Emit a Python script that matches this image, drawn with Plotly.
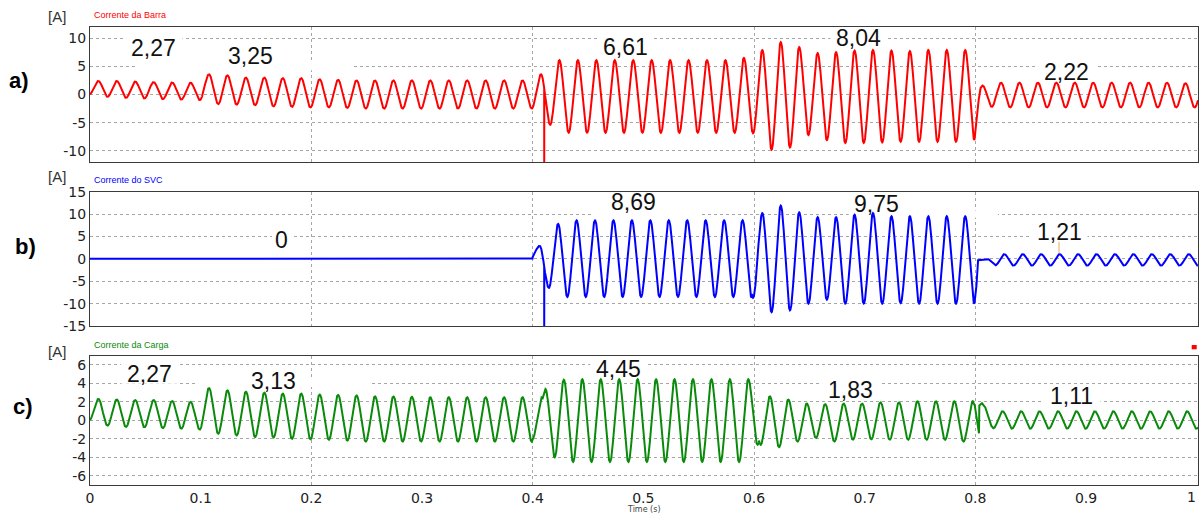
import numpy as np
import plotly.graph_objects as go

# ---------------------------------------------------------------------------
# Waveform description: 60 Hz currents, one positive and one negative peak per
# cycle (60 cycles in 1 s).  Values are the extrema of every cycle.
# ---------------------------------------------------------------------------
F_HZ = 60.0
T_FIRST_PEAK = 0.0075      # time of the first positive peak, s
DT = 0.0001                # sampling step of the drawn curves, s
T_END = 1.0012

time_tick_vals = [0, 0.1, 0.2, 0.3, 0.4, 0.5, 0.6, 0.7, 0.8, 0.9]
time_tick_text = ["0", "0.1", "0.2", "0.3", "0.4", "0.5", "0.6", "0.7", "0.8", "0.9"]
time_end_text = "1"
grid_times = [0.2, 0.4, 0.6, 0.8]

# --- a) Corrente da Barra ----------------------------------------------------
barra_seg_start = [0.0, 0.1, 0.4, 0.6, 0.8]
barra_seg_lag = [0.0, 0.0, 0.0, 0.0, -0.001]
barra_pre = -0.06
barra_peak = [
    2.4, 2.4, 2.3, 2.2, 2.15, 2.1,
    3.6, 3.4, 3.0, 3.0, 2.9, 2.9, 2.7, 2.6, 2.5, 2.5, 2.5, 2.5, 2.5, 2.5, 2.5, 2.5, 2.5, 2.5,
    3.6, 6.1, 6.1, 6.1, 6.1, 6.1, 6.1, 6.1, 6.1, 6.1, 6.1, 6.5,
    7.9, 9.3, 8.4, 7.35, 7.5, 7.8, 7.9, 7.8, 7.7, 7.9, 7.9, 7.9,
    1.6, 2.1, 2.1, 2.1, 2.1, 2.1, 2.1, 2.1, 2.1, 2.1, 2.1, 2.0,
]
barra_trough = [
    -0.42, -0.6, -0.7, -0.82, -0.9, -1.0,
    -1.7, -1.8, -1.9, -2.1, -2.2, -2.3, -2.3, -2.4, -2.5, -2.5, -2.5, -2.5, -2.5, -2.5, -2.5, -2.5, -2.5, -2.5,
    -5.4, -6.8, -6.8, -6.8, -6.8, -6.8, -6.8, -6.8, -6.8, -6.8, -6.8, -6.9,
    -9.8, -9.4, -7.2, -8.1, -8.6, -8.6, -8.5, -8.4, -8.4, -8.4, -8.4, -8.1,
    -2.2, -2.3, -2.3, -2.3, -2.3, -2.3, -2.3, -2.3, -2.3, -2.3, -2.3, -2.3,
]
barra_fix_t = [[0.7992, 0.8030, 0.8048, 0.8065]]
barra_fix_v = [[-8.1, -1.0, 1.2, 1.6]]
barra_spike_t = [0.41045]
barra_spike_v = [-13.0]
barra_ticks = [-10, -5, 0, 5, 10]
barra_tick_text = ["-10", "-5", "0", "5", "10"]
barra_labels = ["2,27", "3,25", "6,61", "8,04", "2,22"]
barra_label_t = [0.0578, 0.1448, 0.4839, 0.6947, 0.8825]
barra_label_v = [8.27, 6.93, 8.5, 10.1, 4.0]

# --- b) Corrente do SVC --------------------------------------------------------
svc_seg_start = [0.0, 0.1, 0.4, 0.598, 0.8]
svc_seg_lag = [0.0, 0.0, -0.0012, 0.0, 0.002]
svc_pre = 0.0
svc_peak = [
    0, 0, 0, 0, 0, 0,
    0, 0, 0, 0, 0, 0, 0, 0, 0, 0, 0, 0, 0, 0, 0, 0, 0, 0,
    2.9, 7.8, 8.6, 8.6, 8.6, 8.6, 8.6, 8.6, 8.6, 8.6, 8.6, 8.6,
    10.2, 11.9, 10.4, 9.3, 9.3, 9.85, 10.2, 9.5, 9.5, 9.5, 9.5, 9.5,
    0.0, 1.05, 1.05, 1.05, 1.05, 1.05, 1.05, 1.05, 1.05, 1.05, 1.05, 1.05,
]
svc_trough = [
    0, 0, 0, 0, 0, 0,
    0, 0, 0, 0, 0, 0, 0, 0, 0, 0, 0, 0, 0, 0, 0, 0, 0, 0,
    -6.5, -8.5, -8.5, -8.5, -8.5, -8.5, -8.5, -8.5, -8.5, -8.5, -8.5, -8.7,
    -11.9, -11.5, -10.0, -9.1, -10.0, -10.0, -10.0, -9.9, -10.0, -10.0, -10.0, -10.0,
    -1.5, -1.5, -1.5, -1.5, -1.5, -1.5, -1.5, -1.5, -1.5, -1.5, -1.5, -1.5,
]
svc_fix_t = [[0.7992, 0.8010, 0.8025, 0.8120, 0.8150, 0.8178]]
svc_fix_v = [[-10.0, -6.0, -0.3, -0.1, -0.8, -1.5]]
svc_spike_t = [0.41045]
svc_spike_v = [-16.0]
svc_ticks = [-15, -10, -5, 0, 5, 10, 15]
svc_tick_text = ["-15", "-10", "-5", "0", "5", "10", "15"]
svc_labels = ["0", "8,69", "9,75", "1,21"]
svc_label_t = [0.1732, 0.4909, 0.7108, 0.8756]
svc_label_v = [4.32, 12.7, 12.18, 6.06]

# --- c) Corrente da Carga ------------------------------------------------------
carga_seg_start = [0.0, 0.1, 0.4, 0.6046, 0.8]
carga_seg_lag = [0.0, 0.0, 0.004, 0.0068, 0.0005]
carga_pre = -0.06
carga_peak = [
    2.33, 2.26, 2.2, 2.2, 2.1, 2.0,
    3.5, 3.25, 3.1, 3.0, 2.9, 2.9, 2.8, 2.75, 2.7, 2.6, 2.6, 2.55, 2.5, 2.5, 2.5, 2.5, 2.5, 2.5,
    3.4, 4.4, 4.45, 4.45, 4.45, 4.45, 4.45, 4.45, 4.45, 4.45, 4.45, 4.45,
    2.6, 2.26, 1.82, 1.75, 1.82, 1.82, 1.95, 1.95, 2.07, 2.07, 2.07, 2.07,
    1.8, 0.98, 0.98, 0.98, 0.98, 0.98, 0.98, 0.98, 0.98, 0.98, 0.98, 0.98,
]
carga_trough = [
    -0.58, -0.72, -0.76, -0.84, -0.9, -1.0,
    -1.45, -1.65, -1.8, -1.85, -2.0, -2.05, -2.1, -2.2, -2.3, -2.3, -2.3, -2.3, -2.3, -2.3, -2.3, -2.3, -2.3, -2.3,
    -4.0, -4.5, -4.5, -4.5, -4.5, -4.5, -4.5, -4.5, -4.5, -4.5, -4.5, -2.65,
    -2.9, -2.3, -1.9, -2.3, -2.1, -2.05, -2.1, -2.1, -2.1, -2.1, -2.3, -1.4,
    -0.85, -0.9, -0.9, -0.9, -0.9, -0.9, -0.9, -0.9, -0.9, -0.9, -0.9, -0.9,
]
carga_fix_t = [
    [0.3992, 0.4015, 0.4040, 0.4065, 0.4082, 0.4088, 0.4100, 0.4115],
    [0.7976, 0.7995, 0.8015, 0.8033, 0.8036, 0.8060, 0.8090, 0.8120, 0.8145, 0.8163],
]
carga_fix_v = [
    [-2.3, -1.6, 0.0, 1.7, 2.6, 2.3, 2.9, 3.4],
    [2.07, 1.6, 0.2, -1.4, 1.6, 1.85, 1.4, 0.3, -0.6, -0.85],
]
carga_spike_t = []
carga_spike_v = []
carga_ticks = [-6, -4, -2, 0, 2, 4, 6]
carga_tick_text = ["-6", "-4", "-2", "0", "2", "4", "6"]
carga_labels = ["2,27", "3,13", "4,45", "1,83", "1,11"]
carga_label_t = [0.0536, 0.166, 0.4777, 0.6872, 0.8873]
carga_label_v = [5.04, 4.28, 5.56, 3.29, 2.61]


def waveform(starts, lags, pre, peaks, troughs, fix_t, fix_v, spike_t, spike_v):
    """Half-cosine arcs joining successive cycle extrema, segment by segment."""
    t = np.round(np.arange(0.0, T_END + DT / 2, DT), 6)
    seg = np.searchsorted(np.asarray(starts), t, side="right") - 1
    lag = np.asarray(lags)[seg]
    cyc = (t - T_FIRST_PEAK - lag) * F_HZ
    n = np.floor(cyc).astype(int)
    frac = cyc - n
    pk = np.asarray(peaks, float)
    tr = np.asarray(troughs, float)
    last = len(pk) - 1
    p_now = pk[np.clip(n, 0, last)]
    p_next = pk[np.clip(n + 1, 0, last)]
    t_now = np.where(n >= 0, tr[np.clip(n, 0, last)], pre)
    v_fall = (p_now + t_now) / 2 + (p_now - t_now) / 2 * np.cos(2 * np.pi * frac)
    v_rise = (t_now + p_next) / 2 - (p_next - t_now) / 2 * np.cos(2 * np.pi * (frac - 0.5))
    v = np.where(frac < 0.5, v_fall, v_rise)

    keep = np.ones(t.shape, bool)
    for ft in fix_t:
        keep &= ~((t > ft[0] - 1e-9) & (t < ft[-1] + 1e-9))
    t_all = np.concatenate([t[keep]] + [np.asarray(f, float) for f in fix_t]
                           + [np.asarray(spike_t, float)])
    v_all = np.concatenate([v[keep]] + [np.asarray(f, float) for f in fix_v]
                           + [np.asarray(spike_v, float)])
    order = np.argsort(t_all, kind="stable")
    return t_all[order], v_all[order]


t_a, i_a = waveform(barra_seg_start, barra_seg_lag, barra_pre, barra_peak, barra_trough,
                    barra_fix_t, barra_fix_v, barra_spike_t, barra_spike_v)
t_b, i_b = waveform(svc_seg_start, svc_seg_lag, svc_pre, svc_peak, svc_trough,
                    svc_fix_t, svc_fix_v, svc_spike_t, svc_spike_v)
t_c, i_c = waveform(carga_seg_start, carga_seg_lag, carga_pre, carga_peak, carga_trough,
                    carga_fix_t, carga_fix_v, carga_spike_t, carga_spike_v)

RED = "#ff0000"
BLUE = "#0000ff"
GREEN = "#0a8a0a"
GRID = "#a6a6a6"
FRAME = "#3a3a3a"
TICK_FONT = dict(family="DejaVu Sans", size=14, color="#222222")
LABEL_FONT = dict(family="Liberation Sans, Arial", size=23, color="#111111")

W, H = 1201, 514
M_L, M_R, M_T, M_B = 90, 3, 27, 29
PLOT_H = H - M_T - M_B
PLOT_W = W - M_L - M_R

panels = [
    dict(t=t_a, v=i_a, color=RED, yr=[-12, 12], ticks=barra_ticks, tt=barra_tick_text,
         dom=[0.70524, 1.0], title="Corrente da Barra", letter="a)",
         labels=barra_labels, lt=barra_label_t, lv=barra_label_v),
    dict(t=t_b, v=i_b, color=BLUE, yr=[-15, 15], ticks=svc_ticks, tt=svc_tick_text,
         dom=[0.34716, 0.6404], title="Corrente do SVC", letter="b)",
         labels=svc_labels, lt=svc_label_t, lv=svc_label_v),
    dict(t=t_c, v=i_c, color=GREEN, yr=[-7, 7], ticks=carga_ticks, tt=carga_tick_text,
         dom=[0.0, 0.28231], title="Corrente da Carga", letter="c)",
         labels=carga_labels, lt=carga_label_t, lv=carga_label_v),
]


def px2x(px):
    return (px - M_L) / PLOT_W


def px2y(py):
    return (H - M_B - py) / PLOT_H


fig = go.Figure()
layout = dict(
    width=W, height=H,
    margin=dict(l=M_L, r=M_R, t=M_T, b=M_B),
    paper_bgcolor="white", plot_bgcolor="white",
    showlegend=False,
)
annotations = []
shapes = []

title_y_px = [15.5, 180, 344.5]
unit_y_px = [16, 176, 351]
letter_pos_px = [(18.8, 80.5), (25.5, 246.7), (22.5, 407)]
x_span = T_END

for k, p in enumerate(panels):
    sfx = "" if k == 0 else str(k + 1)
    xa, ya = "x" + sfx, "y" + sfx
    fig.add_trace(go.Scatter(
        x=p["t"], y=p["v"], mode="lines",
        line=dict(color=p["color"], width=2),
        xaxis=xa, yaxis=ya, hoverinfo="skip",
    ))
    layout["xaxis" + sfx] = dict(
        domain=[0, 1], anchor=ya, range=[0, x_span],
        showline=True, mirror=True, linecolor=FRAME, linewidth=1,
        zeroline=False, showgrid=False, ticks="",
        tickmode="array", tickvals=time_tick_vals, ticktext=time_tick_text,
        showticklabels=(k == 2), tickfont=TICK_FONT,
        minor=dict(tickmode="array", tickvals=grid_times, showgrid=True,
                   gridcolor=GRID, griddash="dot", gridwidth=1, ticks=""),
        fixedrange=True,
    )
    layout["yaxis" + sfx] = dict(
        domain=p["dom"], anchor=xa, range=p["yr"],
        showline=True, mirror=True, linecolor=FRAME, linewidth=1,
        zeroline=False, showgrid=True, gridcolor=GRID, griddash="dot", gridwidth=1,
        ticks="", tickmode="array", tickvals=p["ticks"], ticktext=p["tt"],
        tickfont=TICK_FONT, fixedrange=True,
    )

    # pixel scale of this panel, used to size the white boxes behind the labels
    px_per_unit_y = (p["dom"][1] - p["dom"][0]) * PLOT_H / (p["yr"][1] - p["yr"][0])
    px_per_unit_x = PLOT_W / x_span
    for txt, lt, lv in zip(p["labels"], p["lt"], p["lv"]):
        half_w = (7 + 12.5 * len(txt)) / 2 / px_per_unit_x
        half_h = 10 / px_per_unit_y
        shapes.append(dict(type="rect", xref=xa, yref=ya, layer="between",
                           x0=lt - half_w, x1=lt + half_w, y0=lv - half_h, y1=lv + half_h,
                           fillcolor="white", line=dict(width=0)))
        annotations.append(dict(text=txt, x=lt, y=lv, xref=xa, yref=ya,
                                xanchor="center", yanchor="middle", showarrow=False,
                                font=LABEL_FONT))

    annotations.append(dict(text=p["title"], x=px2x(91.5), y=px2y(title_y_px[k]),
                            xref="paper", yref="paper", xanchor="left", yanchor="middle",
                            showarrow=False,
                            font=dict(family="Liberation Sans, Arial", size=9, color=p["color"])))
    annotations.append(dict(text="[A]", x=px2x(57), y=px2y(unit_y_px[k]),
                            xref="paper", yref="paper", xanchor="center", yanchor="middle",
                            showarrow=False,
                            font=dict(family="Liberation Sans, Arial", size=15, color="#333333")))
    lx, ly = letter_pos_px[k]
    annotations.append(dict(text="<b>%s</b>" % p["letter"], x=px2x(lx), y=px2y(ly),
                            xref="paper", yref="paper", xanchor="center", yanchor="middle",
                            showarrow=False,
                            font=dict(family="Liberation Sans, Arial", size=22, color="#000000")))

# last time label, kept inside the page at the right edge of the axis
annotations.append(dict(text=time_end_text, x=px2x(1198), y=px2y(497), xref="paper", yref="paper",
                        xanchor="right", yanchor="middle", showarrow=False, font=TICK_FONT))

# gaps in the dotted grid behind the label text boxes
shapes += [
    dict(type="rect", xref="x", yref="y", layer="between", x0=0.0407, x1=0.2367,
         y0=4.3, y1=5.7, fillcolor="white", line=dict(width=0)),
    dict(type="rect", xref="x2", yref="y2", layer="between", x0=0.4536, x1=0.5512,
         y0=9.2, y1=10.8, fillcolor="white", line=dict(width=0)),
    dict(type="rect", xref="x2", yref="y2", layer="between", x0=0.6867, x1=0.8204,
         y0=9.2, y1=10.8, fillcolor="white", line=dict(width=0)),
    dict(type="rect", xref="x3", yref="y3", layer="between", x0=0.0958, x1=0.2521,
         y0=3.6, y1=4.4, fillcolor="white", line=dict(width=0)),
    # pointer under the "1,21" reading
    dict(type="line", xref="x2", yref="y2", x0=0.8756, x1=0.8756, y0=3.8, y1=1.3,
         line=dict(color="#f2a65a", width=1)),
    # small marker at the top right of the last panel
    dict(type="rect", xref="paper", yref="paper", x0=px2x(1191.7), x1=px2x(1196.7),
         y0=px2y(349.3), y1=px2y(345), fillcolor="#ff0000", line=dict(width=0)),
]

annotations.append(dict(text="Time (s)", x=px2x(644), y=px2y(509.5), xref="paper", yref="paper",
                        xanchor="center", yanchor="middle", showarrow=False,
                        font=dict(family="DejaVu Sans", size=8, color="#444444")))

layout["annotations"] = annotations
layout["shapes"] = shapes
fig.update_layout(**layout)

fig.write_html("out.html")
